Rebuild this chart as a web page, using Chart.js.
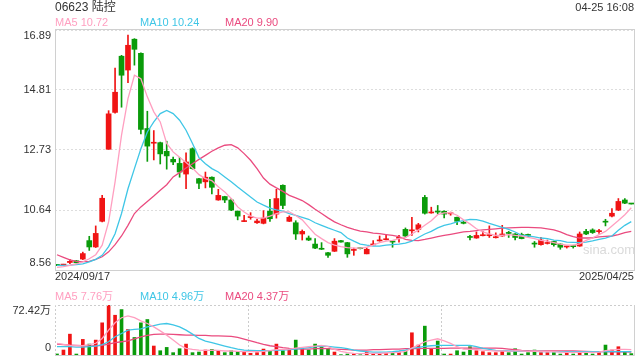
<!DOCTYPE html>
<html>
<head>
<meta charset="utf-8">
<script src="https://cdn.jsdelivr.net/npm/chart.js@4.4.0/dist/chart.umd.min.js"></script>
<style>
body { margin: 0; background: #fff; }
#wrap { position: relative; width: 640px; height: 360px; font-family: Arial, "Liberation Sans", "Noto Sans CJK SC", sans-serif; color: #333; }
canvas { position: absolute; left: 0; top: 0; }
.t { position: absolute; white-space: nowrap; font-size: 11px; line-height: 12px; }
</style>
</head>
<body>
<div id="wrap">
  <canvas id="volChart" width="640" height="360"></canvas>
  <canvas id="kChart" width="640" height="360"></canvas>
  <div class="t" style="left:55px;top:0px;font-size:12px;line-height:14px;">06623 陆控</div>
  <div class="t" style="right:6px;top:1px;">04-25 16:08</div>
  <div class="t" style="left:55px;top:16px;color:#ff9fc0;">MA5 10.72</div>
  <div class="t" style="left:140px;top:16px;color:#3fc6e6;">MA10 10.24</div>
  <div class="t" style="left:225px;top:16px;color:#ea4b7f;">MA20 9.90</div>
  <div class="t" style="left:55px;top:270px;">2024/09/17</div>
  <div class="t" style="right:6px;top:270px;">2025/04/25</div>
  <div class="t" style="left:55px;top:290px;color:#ff9fc0;">MA5 7.76万</div>
  <div class="t" style="left:140px;top:290px;color:#3fc6e6;">MA10 4.96万</div>
  <div class="t" style="left:225px;top:290px;color:#ea4b7f;">MA20 4.37万</div>
  <div class="t" style="left:583px;top:243px;font-size:13px;line-height:14px;color:#dadada;">sina.com</div>
</div>
<script>
// price axis ticks and volume axis ticks
const priceTicks = [8.56, 10.64, 12.73, 14.81, 16.89];
const priceTickText = ['8.56', '10.64', '12.73', '14.81', '16.89'];
const volTicks = [0, 72.42];
const volTickText = ['0', '72.42万'];

// daily K line (90 sessions, 2024/09/17 .. 2025/04/25)
const opens = [8.73,8.73,8.82,8.88,8.94,9.58,9.36,10.25,12.75,14.03,
  15.98,15.50,16.57,16.08,13.47,12.96,12.98,12.68,12.40,12.26,
  11.89,12.77,11.73,11.62,11.78,10.99,11.11,10.99,10.60,10.24,
  10.38,10.20,10.18,10.60,10.50,11.50,10.25,10.20,9.81,9.67,
  9.46,9.29,9.16,9.21,9.58,9.51,9.24,9.31,9.12,9.43,
  9.57,9.61,9.54,9.66,9.97,9.92,9.97,11.08,10.54,10.58,
  10.60,10.51,10.39,10.19,9.70,9.67,9.75,9.75,9.68,9.74,
  9.84,9.81,9.79,9.77,9.47,9.44,9.48,9.55,9.46,9.36,
  9.38,9.39,9.90,9.95,9.89,10.24,10.43,10.64,10.99,10.86];
const highs = [8.75,8.76,8.93,8.89,9.18,9.73,10.09,11.15,14.09,15.57,
  16.01,16.71,16.59,16.10,14.07,13.40,13.00,13.03,12.48,12.47,
  12.63,12.80,11.74,11.96,11.79,11.36,11.12,11.04,10.61,10.46,
  10.55,10.32,10.62,11.01,11.36,11.52,10.44,10.27,9.95,9.74,
  9.65,9.51,9.17,9.65,9.59,9.52,9.32,9.32,9.32,9.58,
  9.74,9.79,9.55,9.76,10.02,10.39,10.18,11.15,10.74,10.80,
  10.61,10.57,10.40,10.25,9.76,9.88,9.90,10.09,9.85,10.11,
  9.90,9.82,9.84,9.81,9.55,9.69,9.60,9.56,9.47,9.39,
  9.42,9.88,9.97,9.99,9.97,10.32,10.69,11.04,11.04,10.86];
const lows = [8.71,8.72,8.78,8.80,8.92,9.24,9.34,10.23,12.75,14.00,
  14.21,15.06,15.67,13.28,12.33,12.38,12.24,12.06,12.22,11.78,
  11.38,12.06,11.38,11.41,11.20,10.98,10.90,10.62,10.30,10.24,
  10.32,10.18,10.16,10.25,10.36,10.69,10.24,9.62,9.60,9.58,
  9.30,9.27,9.00,9.20,9.53,9.00,9.07,9.29,9.12,9.42,
  9.56,9.60,9.35,9.53,9.69,9.76,9.88,10.50,10.53,10.50,
  10.37,10.46,10.13,10.16,9.60,9.66,9.74,9.69,9.67,9.73,
  9.69,9.60,9.64,9.72,9.35,9.42,9.46,9.39,9.28,9.32,
  9.32,9.38,9.79,9.83,9.83,10.09,10.40,10.62,10.86,10.85];
const closes = [8.72,8.74,8.86,8.81,9.13,9.36,9.83,11.05,13.98,14.73,
  15.32,16.36,16.22,13.44,12.86,12.99,12.59,12.52,12.31,11.96,
  12.31,12.08,11.57,11.78,11.43,11.15,10.99,10.64,10.43,10.25,
  10.39,10.26,10.36,10.34,11.04,10.80,10.39,9.81,9.90,9.60,
  9.32,9.28,9.07,9.56,9.53,9.12,9.26,9.30,9.28,9.44,
  9.58,9.62,9.53,9.67,9.74,9.93,10.13,10.53,10.55,10.57,
  10.50,10.52,10.25,10.18,9.69,9.76,9.76,9.76,9.69,9.81,
  9.83,9.69,9.65,9.76,9.46,9.60,9.49,9.44,9.35,9.37,
  9.37,9.81,9.81,9.86,9.90,10.22,10.53,10.94,10.88,10.85];

// moving averages
const ma5 = [8.65,8.68,8.72,8.77,8.84,8.95,9.09,9.42,10.23,11.62,
  13.24,14.51,15.32,15.20,14.57,14.05,13.70,12.95,12.66,12.47,
  12.29,12.10,11.87,11.73,11.66,11.45,11.27,11.04,10.75,10.57,
  10.43,10.36,10.36,10.43,10.52,10.58,10.58,10.45,10.30,10.05,
  9.80,9.65,9.51,9.42,9.37,9.34,9.32,9.32,9.35,9.42,
  9.51,9.56,9.59,9.65,9.69,9.81,9.95,10.11,10.27,10.48,
  10.54,10.55,10.46,10.30,10.16,9.99,9.88,9.81,9.76,9.76,
  9.79,9.76,9.74,9.69,9.65,9.59,9.56,9.51,9.46,9.42,
  9.42,9.47,9.59,9.67,9.79,9.90,10.09,10.28,10.48,10.72];
const ma10 = [8.72,8.72,8.73,8.75,8.77,8.84,8.93,9.07,9.37,9.82,
  10.52,11.38,12.08,12.77,13.35,13.70,13.99,14.10,13.99,13.76,
  13.41,12.95,12.46,12.25,12.08,11.96,11.79,11.62,11.44,11.27,
  11.09,10.92,10.81,10.71,10.65,10.60,10.52,10.46,10.39,10.32,
  10.20,10.11,10.02,9.94,9.86,9.67,9.56,9.46,9.42,9.39,
  9.39,9.42,9.44,9.46,9.49,9.56,9.69,9.81,9.90,10.02,
  10.11,10.16,10.23,10.27,10.32,10.31,10.26,10.18,10.11,10.04,
  9.97,9.88,9.76,9.74,9.71,9.67,9.65,9.60,9.58,9.53,
  9.52,9.51,9.53,9.57,9.62,9.67,9.74,9.94,10.11,10.24];
const ma20 = [9.09,9.00,8.91,8.86,8.85,8.86,8.93,9.02,9.19,9.44,
  9.74,10.11,10.52,10.75,10.94,11.13,11.33,11.52,11.79,11.94,
  12.10,12.25,12.40,12.54,12.68,12.80,12.89,12.91,12.80,12.60,
  12.37,12.08,11.75,11.54,11.41,11.29,11.15,11.06,10.97,10.83,
  10.67,10.52,10.37,10.23,10.13,10.04,9.97,9.91,9.88,9.84,
  9.82,9.79,9.76,9.72,9.62,9.59,9.58,9.62,9.67,9.72,
  9.76,9.80,9.84,9.88,9.90,9.93,9.95,9.97,9.99,10.01,
  10.02,10.03,10.04,10.04,10.03,10.02,9.99,9.95,9.88,9.79,
  9.72,9.67,9.67,9.68,9.71,9.73,9.74,9.79,9.86,9.90];

// volume in 万 shares
const volumes = [1.5,7.2,30.2,1.4,22.6,15.8,21.6,46.6,72.42,57.6,
  65.8,37,25.4,46.6,51.4,13,6.2,11,3.4,9.1,
  15.8,3.4,4.3,7.2,8.2,6.2,3.4,6.2,4.8,4.3,
  2.4,3.4,8.6,5.3,15.8,6.2,7.2,21.6,9.6,7.2,
  15.8,13,9.6,4.3,0.5,1.4,1.4,0.5,4.3,1.4,
  1.4,2.4,2.4,4.3,6.2,32.2,14.4,41.8,9.1,20.2,
  1.4,1.4,6.2,4.3,12,6.2,4.8,3.4,3.4,5.3,
  3.4,9.1,1.4,3.4,7.2,3.4,3.4,3.4,1.4,3.4,
  1.4,3.4,3.4,1.4,3.4,14.4,7.2,12,5.3,2];
const volMa5 = [16.8,15.4,14,13.4,13.4,15,17,24,36,46.6,
  54,56.6,54,49.4,45.6,40.8,35,28.8,21.6,14.4,
  9.6,8.2,7.2,6.7,7.2,6.7,5.8,5.8,5.3,4.8,
  4.8,4.8,5.3,6.2,7.7,8.2,8.6,10,11,12,
  13,13.9,12,8.2,5.3,3.4,2.4,1.9,2.4,2.4,
  2.4,2.9,3.4,3.8,5.3,10,14.4,19.2,21.6,23.5,
  20.6,16.8,12,8.6,8.2,7.7,7.2,6.2,5.8,5.8,
  5.3,6.2,5.8,5.3,5.8,5.3,4.8,4.8,4.3,3.8,
  3.8,3.8,3.8,3.8,4.3,6.2,7.2,8.2,8.2,7.76];
const volMa10 = [12,12,12,11.5,11.5,12,13,14.9,19.2,26.4,
  31.2,36,37,37.9,40.8,42.7,44.6,45.6,43.7,40.8,
  36,30.2,24,20.2,17.8,15.4,13,10.6,8.6,7.2,
  6.7,6.2,6.2,6.2,6.7,7.2,7.7,8.6,9.6,10.6,
  12,13,12.5,11.5,10.6,9.1,7.2,5.8,4.8,4.3,
  4.3,4.3,4.8,5.8,7.2,9.6,11,12.5,13.4,13.9,
  13.9,13.9,13.9,13.9,13.9,12,9.6,8.2,6.7,6.2,
  5.8,5.8,5.3,5.3,5.2,5.1,5.0,4.9,4.8,4.8,
  4.7,4.7,4.7,4.7,4.8,4.9,5.0,5.0,5.0,4.96];
const volMa20 = [15.8,14.9,14.4,13.9,13.4,13,13.4,13.9,15.8,17.8,
  19.2,20.6,23.5,26.4,28.3,29.8,30.2,30.2,29.8,29.3,
  28.8,28.8,28.3,28.3,27.8,27.8,27.4,26.9,25.4,23,
  20.6,17.8,15.4,13.4,12,10.6,9.6,9.1,8.6,8.6,
  9.1,9.6,9.1,8.6,8.2,7.7,7.2,7.2,7.2,7.7,
  7.7,8.2,8.6,8.6,9.1,9.1,9.1,9.6,9.6,9.6,
  9.6,10,10,10,10,10,10,10,10,9.6,
  8.6,7.7,6.7,6.2,5.8,5.8,5.8,5.8,5.8,5.8,
  5.8,5.4,5.2,5.0,4.9,4.8,4.6,4.5,4.4,4.37];

const RED = '#f01414';
const GREEN = '#0a9b0a';
const C_MA5 = '#ff9fc0', C_MA10 = '#3fc6e6', C_MA20 = '#ea4b7f';
const candleColors = closes.map((c, i) => (c >= opens[i] ? RED : GREEN));

// x range so first/last session sit just inside the frame
const xMin = -0.31, xMax = 89.42;
const FONT = '11px Arial, "Liberation Sans", "Noto Sans CJK SC", sans-serif';

Chart.defaults.font.family = 'Arial, "Liberation Sans", "Noto Sans CJK SC", sans-serif';
Chart.defaults.animation = false;

const pts = arr => arr.map((v, i) => ({ x: i, y: v }));
const maLine = (arr, color) => ({
  type: 'line', data: pts(arr), borderColor: color, borderWidth: 1.3,
  pointRadius: 0, tension: 0, fill: false, order: 0,
});

// draws y labels just left of the plot (top/bottom ones pulled inside)
function yLabels(values, texts) {
  return {
    id: 'yLabels',
    afterDraw(chart) {
      const { ctx, scales: { y } } = chart;
      ctx.save();
      ctx.font = FONT;
      ctx.fillStyle = '#333';
      ctx.textAlign = 'right';
      ctx.textBaseline = 'middle';
      values.forEach((v, i) => {
        let py = y.getPixelForValue(v);
        if (i === 0) py -= 7;
        if (i === values.length - 1) py += 6;
        ctx.fillText(texts[i], 51, py);
      });
      ctx.restore();
    }
  };
}

const mainFrame = {
  id: 'mainFrame',
  afterDraw(chart) {
    const { ctx, chartArea: a } = chart;
    ctx.save();
    ctx.strokeStyle = '#d0d0d0';
    ctx.lineWidth = 1;
    ctx.strokeRect(a.left + 0.5, a.top - 0.5, a.width, a.height + 1);
    ctx.restore();
  }
};

const volFrame = {
  id: 'volFrame',
  afterDraw(chart) {
    const { ctx, chartArea: a } = chart;
    ctx.save();
    ctx.lineWidth = 1;
    ctx.strokeStyle = '#d0d0d0';
    ctx.beginPath();
    ctx.moveTo(a.right + 0.5, a.top);
    ctx.lineTo(a.right + 0.5, a.bottom + 0.5);
    ctx.lineTo(a.left, a.bottom + 0.5);
    ctx.stroke();
    ctx.setLineDash([2, 2]);
    ctx.strokeStyle = '#cccccc';
    ctx.beginPath();
    ctx.moveTo(a.left + 0.5, a.bottom);
    ctx.lineTo(a.left + 0.5, a.top + 0.5);
    ctx.lineTo(a.right, a.top + 0.5);
    ctx.stroke();
    ctx.restore();
  }
};

new Chart(document.getElementById('kChart'), {
  type: 'bar',
  data: {
    datasets: [
      maLine(ma5, C_MA5),
      maLine(ma10, C_MA10),
      maLine(ma20, C_MA20),
      {
        label: 'body',
        data: opens.map((o, i) => ({ x: i, y: [o, closes[i]] })),
        backgroundColor: candleColors,
        barThickness: 5, minBarLength: 1, grouped: false, borderWidth: 0, order: 1,
      },
      {
        label: 'wick',
        data: lows.map((l, i) => ({ x: i, y: [l, highs[i]] })),
        backgroundColor: candleColors,
        barThickness: 1, grouped: false, borderWidth: 0, order: 2,
      },
    ],
  },
  options: {
    responsive: false,
    layout: { padding: { left: 55, right: 6, top: 30, bottom: 90 } },
    plugins: { legend: { display: false }, tooltip: { enabled: false } },
    scales: {
      x: { type: 'linear', min: xMin, max: xMax, offset: false, display: false },
      y: {
        type: 'linear', min: 8.56, max: 16.89,
        afterBuildTicks: s => { s.ticks = priceTicks.map(v => ({ value: v })); },
        ticks: { display: false },
        grid: { color: '#dddddd', lineWidth: 1, drawTicks: false },
        border: { display: false, dash: [2, 2] },
      },
    },
  },
  plugins: [mainFrame, yLabels(priceTicks, priceTickText)],
});

new Chart(document.getElementById('volChart'), {
  type: 'bar',
  data: {
    datasets: [
      maLine(volMa5, C_MA5),
      maLine(volMa10, C_MA10),
      maLine(volMa20, C_MA20),
      {
        label: 'volume',
        data: pts(volumes),
        backgroundColor: candleColors,
        barThickness: 3, grouped: false, borderWidth: 0, order: 1,
      },
    ],
  },
  options: {
    responsive: false,
    layout: { padding: { left: 55, right: 6, top: 305, bottom: 5 } },
    plugins: { legend: { display: false }, tooltip: { enabled: false } },
    scales: {
      x: {
        type: 'linear', min: xMin, max: xMax, offset: false,
        afterBuildTicks: s => {
          const w = xMax - xMin;
          s.ticks = [{ value: xMin + w / 3 }, { value: xMin + 2 * w / 3 }];
        },
        ticks: { display: false },
        grid: { color: '#cccccc', lineWidth: 1, drawTicks: false, offset: false },
        border: { display: false, dash: [2, 2] },
      },
      y: { type: 'linear', min: 0, max: 72.42, display: false },
    },
  },
  plugins: [volFrame, yLabels(volTicks, volTickText)],
});
</script>
</body>
</html>
